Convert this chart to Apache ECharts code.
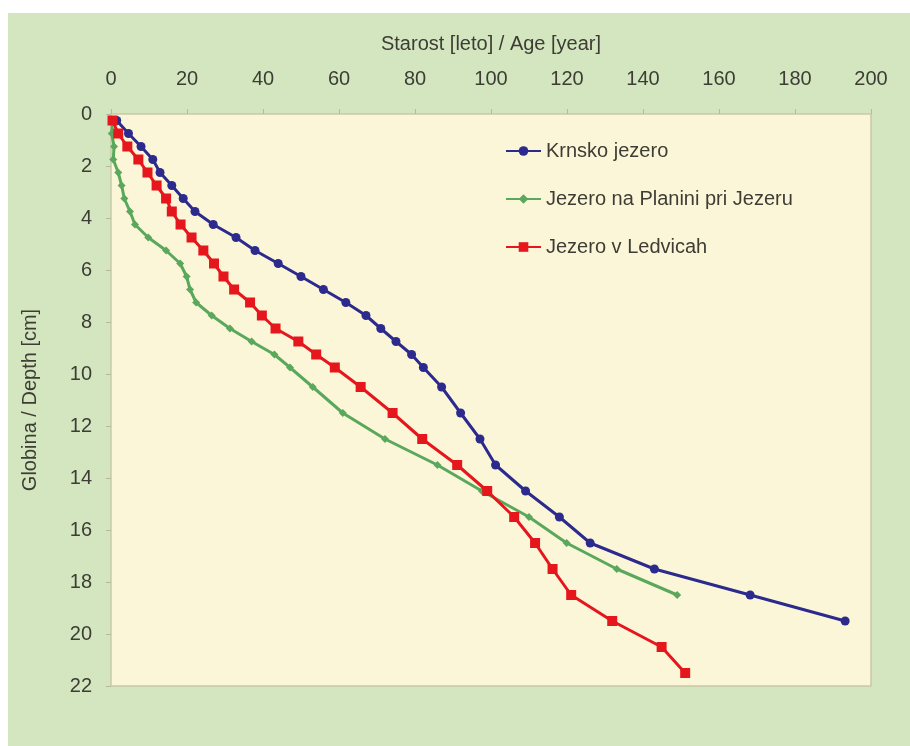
<!DOCTYPE html>
<html><head><meta charset="utf-8">
<script src="https://cdn.jsdelivr.net/npm/echarts@6/dist/echarts.min.js"></script>
<style>html,body{margin:0;padding:0;background:#fff}#c{width:910px;height:746px}</style>
</head><body><div id="c"></div>
<script>
var seriesNames = ['Krnsko jezero', 'Jezero na Planini pri Jezeru', 'Jezero v Ledvicah'];

var krnskoDepth = [0.25,0.75,1.25,1.75,2.25,2.75,3.25,3.75,4.25,4.75,5.25,5.75,6.25,6.75,7.25,7.75,8.25,8.75,9.25,9.75,10.5,11.5,12.5,13.5,14.5,15.5,16.5,17.5,18.5,19.5];
var krnskoAge   = [1.5,4.6,7.9,11.0,12.9,16.0,19.0,22.1,26.9,32.9,37.9,44.0,50.0,55.9,61.8,67.1,71.0,75.0,79.1,82.2,87.0,92.0,97.1,101.2,109.1,118.0,126.1,143.0,168.2,193.2];

var planinaDepth = [0.25,0.75,1.25,1.75,2.25,2.75,3.25,3.75,4.25,4.75,5.25,5.75,6.25,6.75,7.25,7.75,8.25,8.75,9.25,9.75,10.5,11.5,12.5,13.5,14.5,15.5,16.5,17.5,18.5];
var planinaAge   = [0.4,0.2,0.8,0.6,1.9,2.8,3.5,5.0,6.3,9.8,14.5,18.2,19.9,20.8,22.4,26.5,31.3,37.0,43.0,47.1,53.1,61.0,72.1,85.9,97.6,110.0,119.9,133.1,149.0];

var ledviceDepth = [0.25,0.75,1.25,1.75,2.25,2.75,3.25,3.75,4.25,4.75,5.25,5.75,6.25,6.75,7.25,7.75,8.25,8.75,9.25,9.75,10.5,11.5,12.5,13.5,14.5,15.5,16.5,17.5,18.5,19.5,20.5,21.5];
var ledviceAge   = [0.4,1.9,4.3,7.2,9.6,12.0,14.5,16.0,18.3,21.2,24.3,27.1,29.6,32.4,36.6,39.7,43.3,49.3,54.0,58.9,65.7,74.1,81.9,91.1,99.0,106.1,111.6,116.2,121.1,131.9,144.9,151.1];

var xTicks = [0,20,40,60,80,100,120,140,160,180,200];
var yTicks = [0,2,4,6,8,10,12,14,16,18,20,22];

function pairs(ages, depths){ return ages.map(function(a,i){ return [a, depths[i]]; }); }

var FONT = '"Liberation Sans", Arial, Helvetica, sans-serif';
var TXT = '#3d3d35';
var chart = echarts.init(document.getElementById('c'), null, {renderer:'canvas'});
chart.setOption({
  animation:false,
  backgroundColor:'#ffffff',
  graphic:[{type:'rect', z:-10, shape:{x:8,y:13,width:902,height:733}, style:{fill:'#d3e6bf'}}],
  grid:{left:111, top:114, right:39, bottom:60, show:true, backgroundColor:'#fcf6d9', borderColor:'#c9c9a6', borderWidth:1.5},
  xAxis:{
    type:'value', position:'top', min:xTicks[0], max:xTicks[xTicks.length-1], interval:20,
    name:'Starost [leto] / Age [year]', nameLocation:'middle', nameGap:60,
    nameTextStyle:{fontFamily:FONT, fontSize:20, color:TXT},
    axisLine:{show:false},
    axisTick:{show:true, inside:false, length:5, lineStyle:{color:'#b8b8a0'}},
    axisLabel:{fontFamily:FONT, fontSize:20, color:TXT, margin:25},
    splitLine:{show:false}
  },
  yAxis:{
    type:'value', inverse:true, min:yTicks[0], max:yTicks[yTicks.length-1], interval:2,
    name:'Globina / Depth [cm]', nameLocation:'middle', nameGap:71, nameRotate:90,
    nameTextStyle:{fontFamily:FONT, fontSize:20, color:TXT},
    axisLine:{show:false},
    axisTick:{show:true, inside:false, length:5, lineStyle:{color:'#b8b8a0'}},
    axisLabel:{fontFamily:FONT, fontSize:20, color:TXT, margin:19},
    splitLine:{show:false}
  },
  legend:{
    orient:'vertical', left:500, top:135, itemWidth:35, itemHeight:12, itemGap:26,
    textStyle:{fontFamily:FONT, fontSize:20, color:TXT, lineHeight:22},
    data:seriesNames
  },
  series:[
    {name:seriesNames[0], type:'line', data:pairs(krnskoAge, krnskoDepth), color:'#2c2a8c',
     symbol:'circle', symbolSize:9, lineStyle:{width:3}, z:3},
    {name:seriesNames[1], type:'line', data:pairs(planinaAge, planinaDepth), color:'#5aa85c',
     symbol:'diamond', symbolSize:8, lineStyle:{width:3}, z:2},
    {name:seriesNames[2], type:'line', data:pairs(ledviceAge, ledviceDepth), color:'#e5161c',
     symbol:'rect', symbolSize:10, lineStyle:{width:3}, z:4}
  ]
});
</script></body></html>
